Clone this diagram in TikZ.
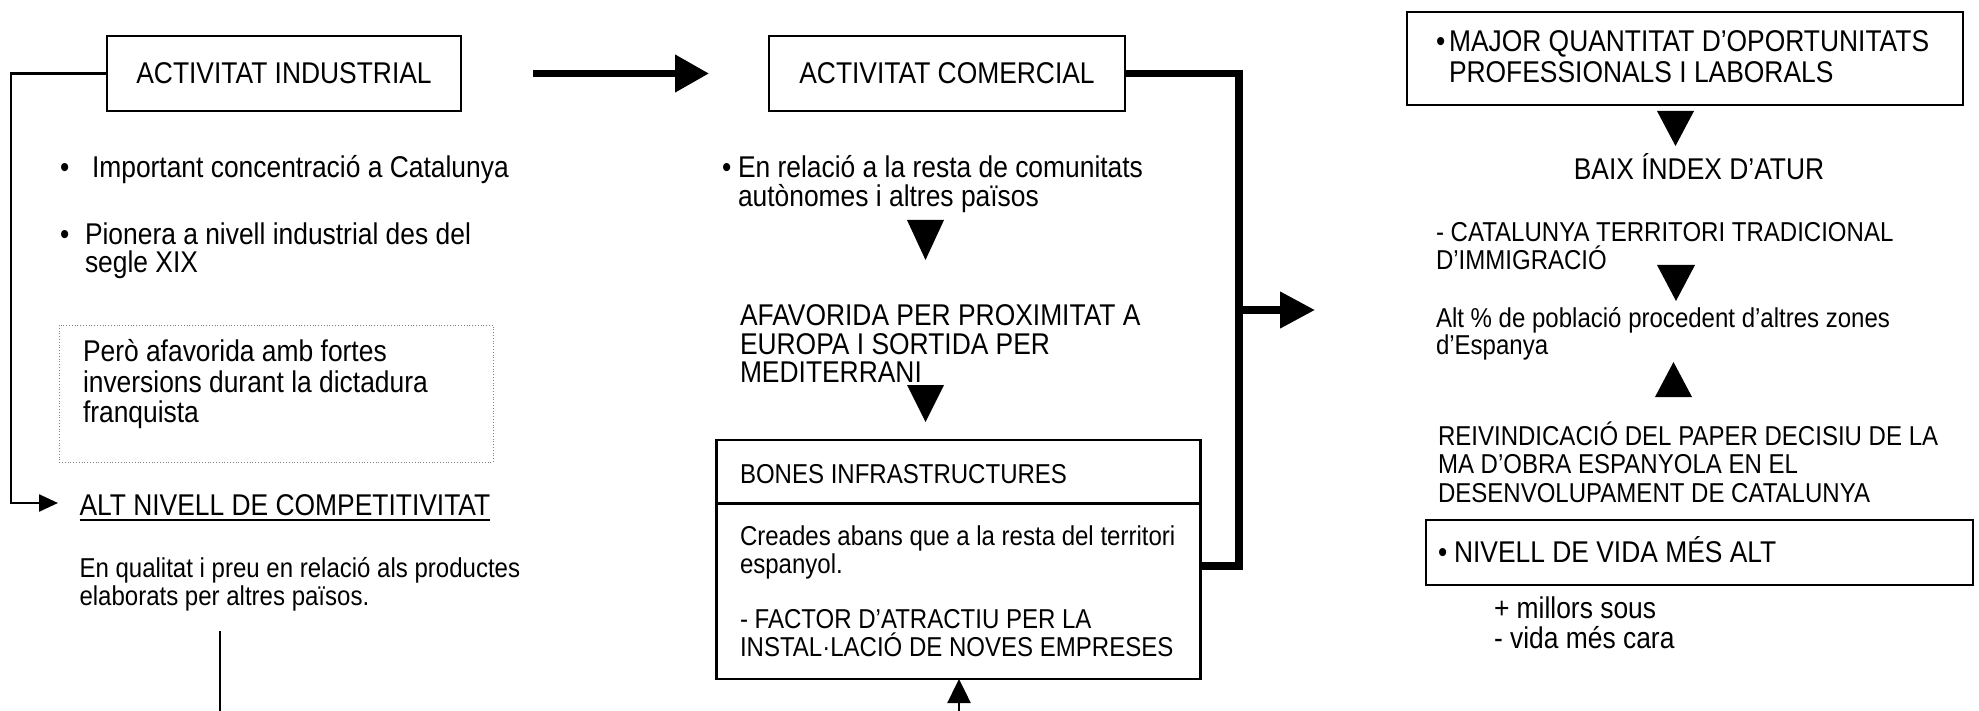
\documentclass[tikz,border=0pt]{standalone}
\usepackage{fontspec}
\setmainfont[FakeStretch=0.88]{Liberation Sans}
\usetikzlibrary{arrows.meta}
\newcommand{\bigtxt}{\fontsize{30}{29}\selectfont}
\newcommand{\smtxt}{\fontsize{27.3}{28}\selectfont}
\newcommand{\mlines}[1]{\vtop{\lineskiplimit=-50pt\halign{##\hfil\cr#1\crcr}}}
\begin{document}
\begin{tikzpicture}[x=1pt,y=-1pt,
  every node/.style={inner sep=0pt,outer sep=0pt},
  font=\bigtxt,
  box/.style={draw,line width=2.6pt},
  txt/.style={anchor=base west},
  ctxt/.style={anchor=base},
  thinline/.style={line width=2.5pt},
  thickline/.style={line width=7.5pt},
  tri/.style={fill=black},
  dotbox/.style={draw=gray,dotted,line width=0.8pt}]
\useasboundingbox (0,0) rectangle (1979,711);

% ---------------- left column ----------------
\node[box,minimum width=354pt,minimum height=75pt] (ind) at (284,73.5) {ACTIVITAT INDUSTRIAL};
\node[txt] (b1dot) at (60,178) {•};
\node[txt] (b1) at (92,178) {Important concentració a Catalunya};
\node[txt] (b2dot) at (60,245) {•};
\node[txt] (b2) at (85,245) {\baselineskip=28pt\mlines{Pionera a nivell industrial des del\cr segle XIX}};
\draw[dotbox] (59,325) rectangle (493,462);
\node[txt] (pero) at (83,362) {\baselineskip=30.5pt\mlines{Però afavorida amb fortes\cr inversions durant la dictadura\cr franquista}};
\node[txt] (alt) at (79.5,515) {ALT NIVELL DE COMPETITIVITAT};
\draw[line width=2pt] ([yshift=-4.5pt]alt.base west) -- ([yshift=-4.5pt]alt.base east);
\node[txt,font=\smtxt] (qual) at (79.5,577) {\mlines{En qualitat i preu en relació als productes\cr elaborats per altres països.}};
\coordinate (altin) at (58,503);
\draw[thinline,-{Triangle[length=19pt,width=17pt]}] (ind.west) -- (11,73.5) |- (altin);
\coordinate (qbot) at (220,631);
\coordinate (qend) at (220,711);
\draw[thinline] (qbot) -- (qend);

% ---------------- middle column ----------------
\node[box,minimum width=356pt,minimum height=75pt] (com) at (947,73.5) {ACTIVITAT COMERCIAL};
\coordinate (bigA) at ([xshift=72pt]ind.east);
\coordinate (bigB) at ([xshift=-60pt]com.west);
\draw[thickline,-{Triangle[length=34pt,width=36pt]}] (bigA) -- (bigB);

\node[txt] (c1dot) at (722,178) {•};
\node[txt] (c1) at (738,178) {\mlines{En relació a la resta de comunitats\cr autònomes i altres països}};
\fill[tri] (907,220) -- (944,220) -- (925.5,260) -- cycle;
\node[txt] (afav) at (740,326) {\baselineskip=28.5pt\mlines{AFAVORIDA PER PROXIMITAT A\cr EUROPA I SORTIDA PER\cr MEDITERRANI}};
\fill[tri] (907,385) -- (944,385) -- (925.5,422) -- cycle;

\node[box,minimum width=484pt,minimum height=239pt] (bones) at (958.5,559.5) {};
\draw[box] ([yshift=-63.5pt]bones.north west) -- ([yshift=-63.5pt]bones.north east);
\node[txt,font=\smtxt] (bonest) at (740,483) {BONES INFRASTRUCTURES};
\node[txt,font=\smtxt] (creades) at (740,545) {\mlines{Creades abans que a la resta del territori\cr espanyol.}};
\node[txt,font=\smtxt] (factor) at (740,628) {\mlines{- FACTOR D’ATRACTIU PER LA\cr INSTAL·LACIÓ DE NOVES EMPRESES}};
\coordinate (upin) at (959,711);
\draw[thinline,-{Triangle[length=24pt,width=23pt]}] (upin) -- (bones.south -| upin);

\coordinate (jtop) at (1239,73.5);
\coordinate (jbot) at (1239,566);
\draw[thickline] (com.east) -- (jtop) -- (jbot) -- (bones.east |- jbot);
\coordinate (jmid) at (1239,310);
\coordinate (rin) at (1315,310);
\draw[thickline,-{Triangle[length=35pt,width=35pt]}] (jmid) -- (rin);

% ---------------- right column ----------------
\node[box,minimum width=556pt,minimum height=93pt] (major) at (1685,58.5) {};
\node[txt] (majdot) at (1436,52) {•};
\node[txt] (majt) at (1449,52) {\baselineskip=31pt\mlines{MAJOR QUANTITAT D’OPORTUNITATS\cr PROFESSIONALS I LABORALS}};
\fill[tri] (1657,111) -- (1694,111) -- (1675.5,146) -- cycle;
\node[ctxt] (baix) at (1699,180) {BAIX ÍNDEX D’ATUR};
\node[txt,font=\smtxt] (cat) at (1436,242) {\mlines{- CATALUNYA TERRITORI TRADICIONAL\cr D'IMMIGRACIÓ}};
\fill[tri] (1657,265) -- (1695,265) -- (1676,301) -- cycle;
\node[txt,font=\smtxt] (altp) at (1436,327) {\mlines{Alt \% de població procedent d’altres zones\cr d’Espanya}};
\fill[tri] (1655,397) -- (1692,397) -- (1673.5,362) -- cycle;
\node[txt,font=\smtxt] (reiv) at (1438,445) {\baselineskip=28.5pt\mlines{REIVINDICACIÓ DEL PAPER DECISIU DE LA\cr MA D’OBRA ESPANYOLA EN EL\cr DESENVOLUPAMENT DE CATALUNYA}};
\node[box,minimum width=547pt,minimum height=65pt] (vida) at (1699.5,552.5) {};
\node[txt] (vidadot) at (1438,562) {•};
\node[txt] (vidat) at (1454,562) {NIVELL DE VIDA MÉS ALT};
\node[txt] (sous) at (1494,618) {\baselineskip=30pt\mlines{+ millors sous\cr - vida més cara}};
\end{tikzpicture}
\end{document}
